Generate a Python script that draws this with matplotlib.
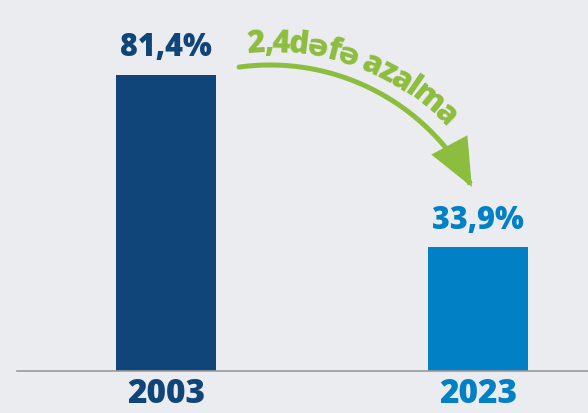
import numpy as np
import matplotlib.pyplot as plt
from matplotlib.patches import FancyArrowPatch
from matplotlib.path import Path

# data
years = ["2003", "2023"]
shares = [81.4, 33.9]
share_labels = ["81,4%", "33,9%"]
note_words = ["2,4", "dəfə", "azalma"]

# styles
bar_colors = ["#10457a", "#0180c6"]
note_color = "#8dbd3e"
bg = "#ebecf0"

plt.rcParams['font.family'] = ['Open Sans', 'DejaVu Sans']

fig = plt.figure(figsize=(5.88, 4.14), dpi=100, facecolor=bg)
ax = fig.add_axes([17 / 588, 1 - 371.5 / 414, 571 / 588, 371.5 / 414])
ax.set_facecolor('none')

x = np.arange(len(years))
ax.bar(x, shares, width=0.32, color=bar_colors)
ax.set_xlim(-0.4776, 1.3526)
ax.set_ylim(0, 102.2)
for sp in ['top', 'right', 'left']:
    ax.spines[sp].set_visible(False)
ax.spines['bottom'].set_color('#9a9a9a')
ax.spines['bottom'].set_linewidth(1.2)
ax.set_yticks([])
ax.set_xticks(x, years)
ax.tick_params(axis='x', length=0, pad=4, labelsize=24)
for t, c in zip(ax.get_xticklabels(), bar_colors):
    t.set_color(c)
    t.set_fontweight('heavy')

for xi, v, lab, c in zip(x, shares, share_labels, bar_colors):
    ax.annotate(lab, (xi, v), xytext=(0, 8), textcoords='offset points',
                ha='center', va='bottom', fontsize=22, fontweight='heavy', color=c)

# overlay in pixel coordinates for the curved arrow + text
ov = fig.add_axes([0, 0, 1, 1])
ov.set_xlim(0, 588)
ov.set_ylim(414, 0)
ov.axis('off')
ov.patch.set_alpha(0)

cx, cy, R = 270, 294, 228
th = np.radians(np.linspace(97.8, 27.7, 80))
arc = np.column_stack([cx + R * np.cos(th), cy - R * np.sin(th)])
arrow = FancyArrowPatch(path=Path(arc), arrowstyle='-|>,head_length=28,head_width=12',
                        mutation_scale=1, color=note_color, lw=3.6,
                        shrinkA=0, shrinkB=0, joinstyle='miter')
ov.add_patch(arrow)

# text along the arc
renderer = fig.canvas.get_renderer()
fs = 20
rb = 242
theta0 = np.radians(95.2)
target_len = rb * np.radians(95.2 - 43.5)


def char_width(ch, size):
    t = fig.text(0, 0, ch, fontsize=size, fontweight='heavy')
    w = t.get_window_extent(renderer).width
    t.remove()
    return w


def layout(size):
    items = []
    s = 0.0
    for wi, word in enumerate(note_words):
        if wi > 1:
            s += 0.22 * size * 100 / 72
        for ch in word:
            w = char_width(ch, size) * 0.9
            items.append((ch, s + w / 2))
            s += w
    return items, s


items, total = layout(fs)
fs = fs * target_len / total
items, total = layout(fs)

for ch, sc in items:
    a = theta0 - sc / rb
    px = cx + rb * np.cos(a)
    py = cy - rb * np.sin(a)
    ov.text(px, py, ch, rotation=np.degrees(a) - 90, rotation_mode='anchor',
            ha='center', va='baseline', fontsize=fs, fontweight='heavy',
            color=note_color)

fig.savefig('out.png', dpi=100, facecolor=bg)
